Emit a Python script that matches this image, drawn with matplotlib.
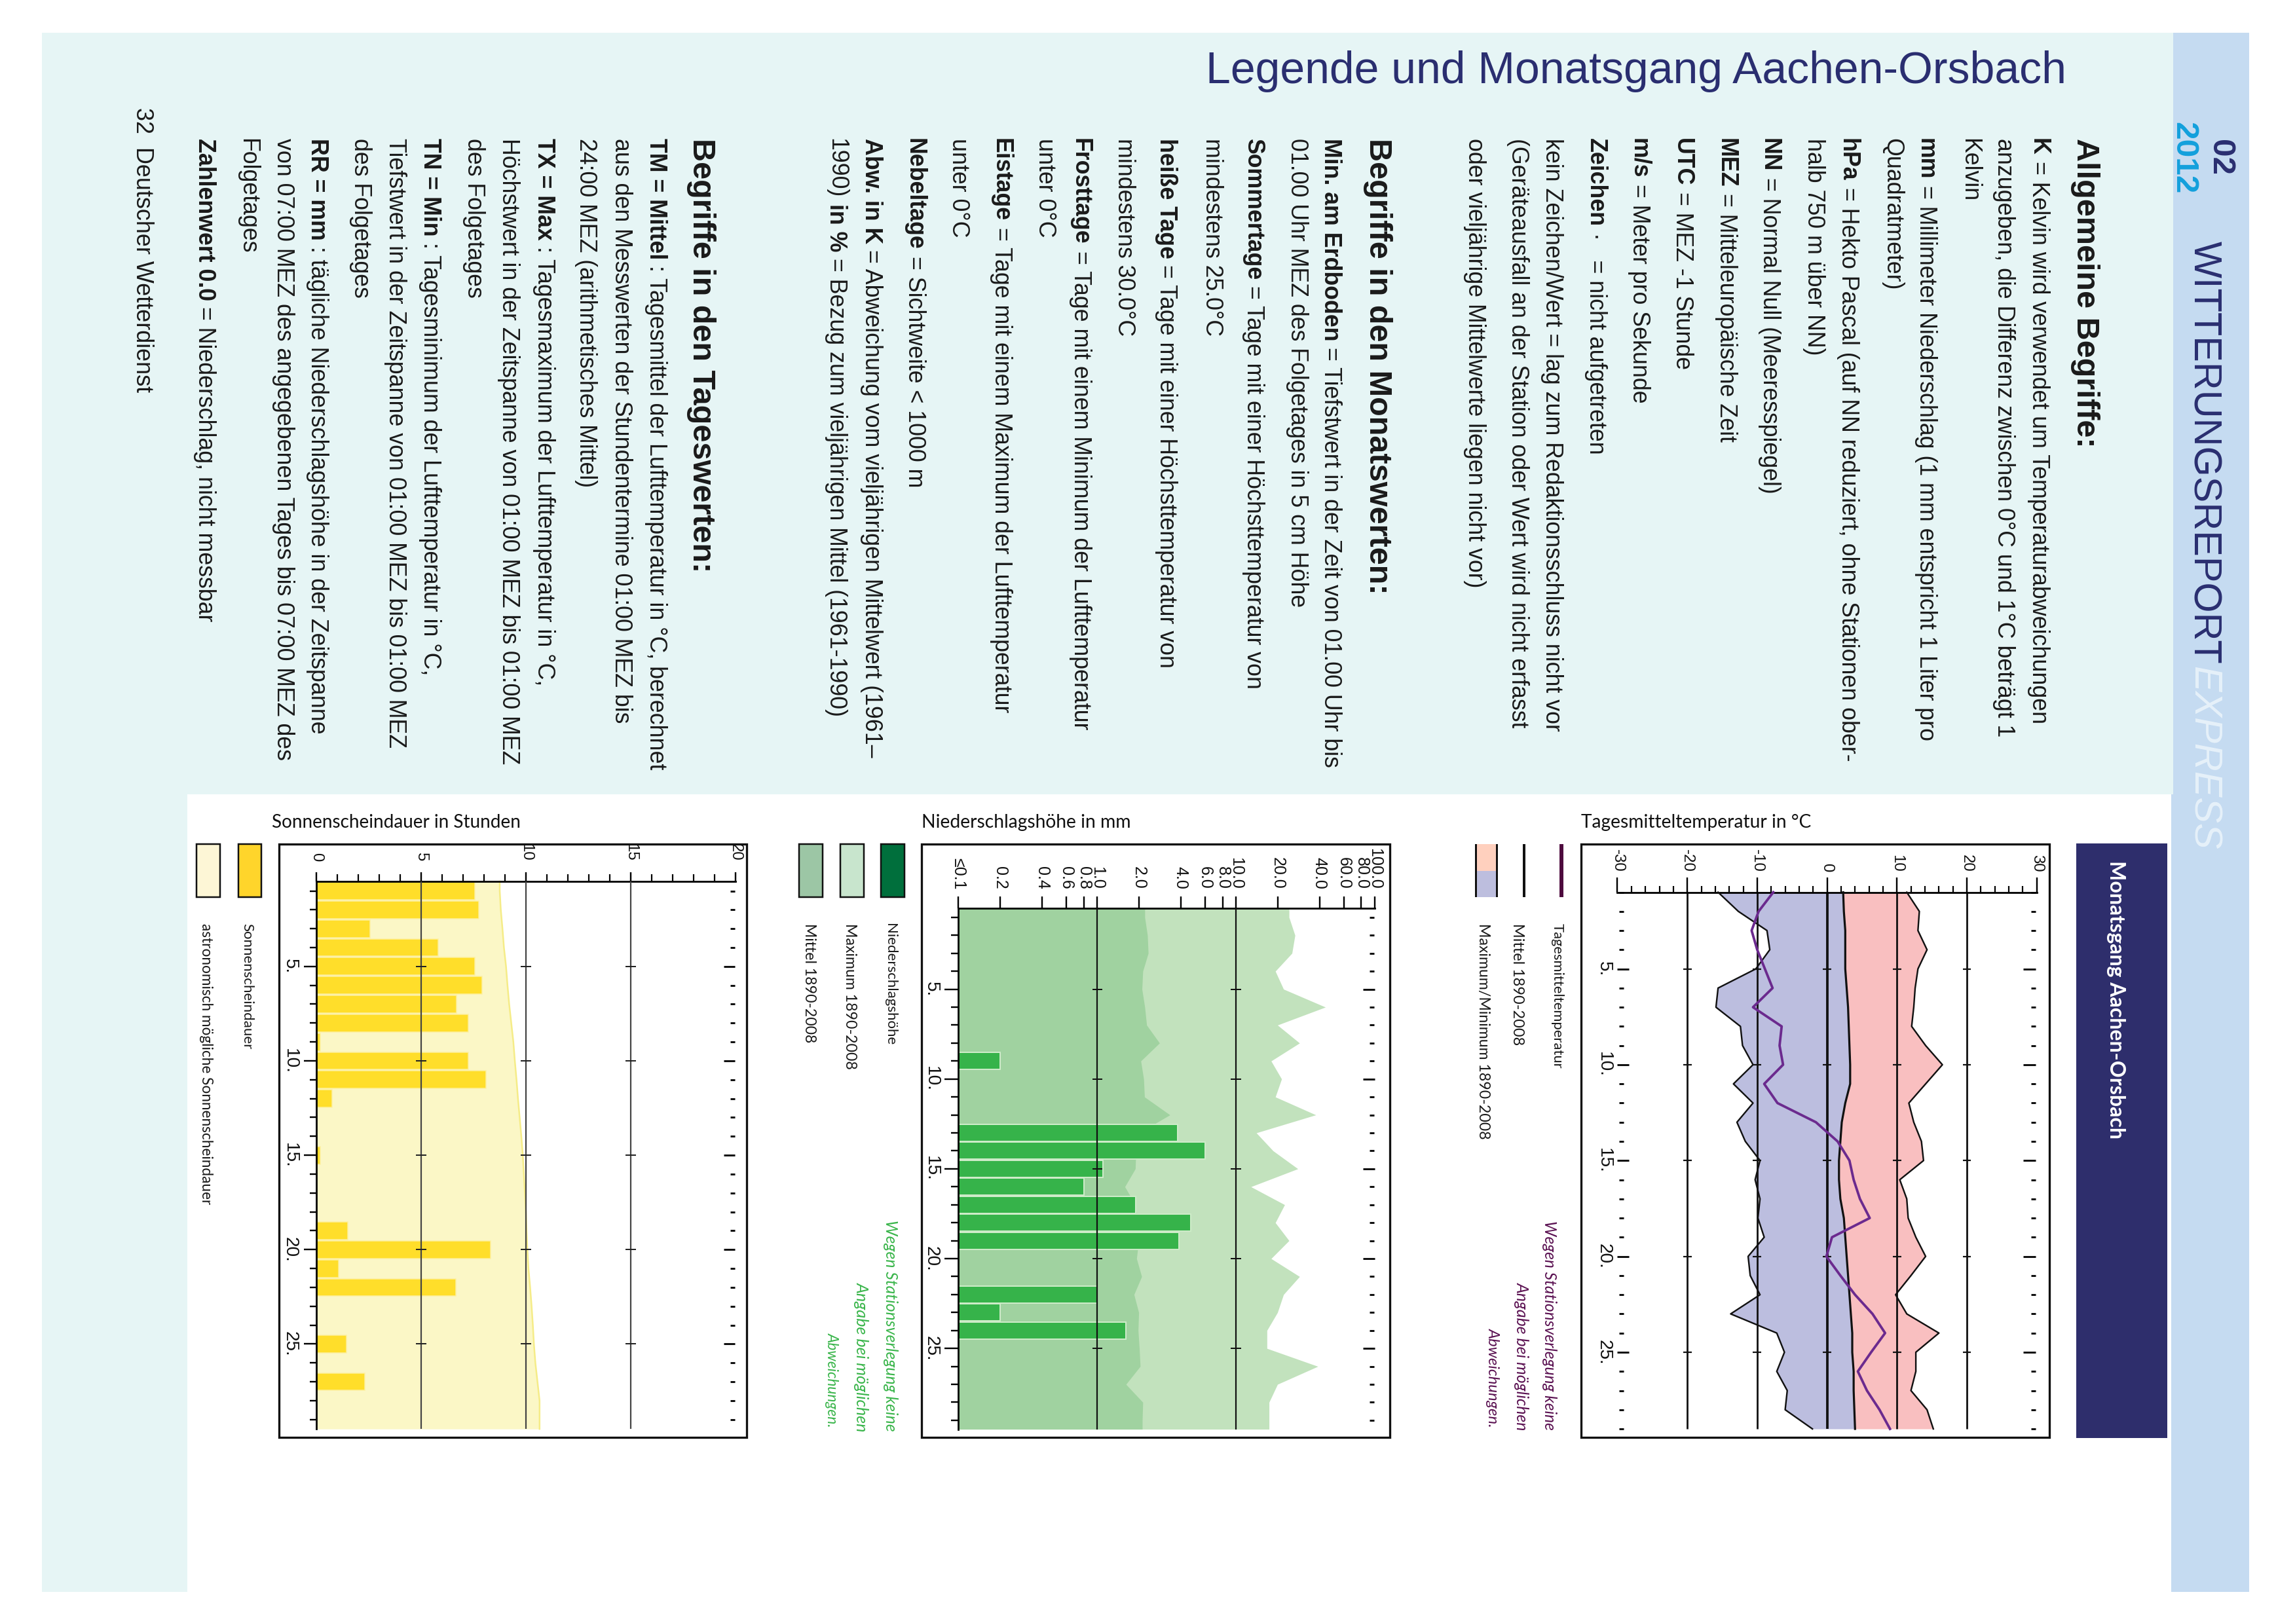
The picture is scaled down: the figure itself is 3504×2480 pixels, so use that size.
import numpy as np
import matplotlib
matplotlib.use("Agg")
import matplotlib.pyplot as plt
from matplotlib.patches import Rectangle
from matplotlib.ticker import NullLocator, NullFormatter

# ---------- data ----------
days = list(range(1, 30))
temp_max = [11.4,13.2,13.0,14.3,13.0,12.6,12.4,12.1,14.1,16.5,14.1,11.7,12.4,13.5,13.8,10.4,11.4,11.6,12.7,14.1,12.0,9.8,11.4,16.0,12.7,12.7,12.0,14.3,15.2]
temp_min = [-15.6,-12.7,-8.6,-8.2,-10.2,-15.6,-15.9,-12.4,-12.1,-10.6,-13.4,-10.6,-12.9,-11.7,-9.6,-10.3,-9.6,-9.9,-9.0,-11.3,-11.0,-9.6,-13.8,-7.2,-6.1,-7.2,-5.7,-6.0,-2.1]
temp_mean = [2.3,2.4,2.6,2.6,2.6,2.8,3.0,3.1,3.2,3.3,3.3,2.6,2.1,1.9,1.7,1.7,1.9,2.4,2.6,2.8,3.0,3.2,3.4,3.6,3.6,3.8,3.8,3.9,4.0]
temp_day = [-7.7,-9.8,-10.8,-10.0,-8.9,-7.8,-10.6,-6.5,-6.8,-6.3,-9.0,-7.1,-1.6,1.5,3.2,3.8,4.7,6.1,0.7,-0.1,1.9,4.0,6.5,8.3,6.3,4.4,5.7,7.5,9.0]

rain_max = [24.1,26.6,25.3,19.2,22.0,44.1,19.9,28.7,17.9,21.3,19.2,37.6,14.0,18.5,27.9,12.8,22.4,19.2,24.1,17.9,28.7,22.0,19.9,16.7,16.7,38.9,19.9,17.3,17.3]
rain_mean = [2.2,2.3,2.33,2.13,2.1,2.2,2.27,2.81,2.06,2.16,2.19,3.34,2.0,1.9,1.88,1.58,1.88,1.95,1.99,1.92,2.09,1.84,1.99,1.97,2.01,2.04,1.61,2.13,2.11]
rain_day = [0,0,0,0,0,0,0,0,0.2,0,0,0,3.8,6.0,1.1,0.8,1.9,4.7,3.9,0,0,1.0,0.2,1.6,0,0,0,0,0]

sun_day = [7.56,7.75,2.55,5.8,7.56,7.9,6.7,7.25,0.2,7.25,8.1,0.75,0,0,0.2,0,0,0,1.5,8.3,1.05,6.65,0,0,1.45,0,2.3,0,0]
sun_astro = [8.75,8.8,8.88,8.95,9.05,9.12,9.2,9.3,9.4,9.47,9.55,9.62,9.7,9.78,9.85,9.9,9.95,10.0,10.03,10.07,10.12,10.2,10.27,10.33,10.38,10.45,10.55,10.65,10.65]

day_major = [5, 10, 15, 20, 25]
day_labels = ["5.", "10.", "15.", "20.", "25."]
temp_ticks = [-30, -20, -10, 0, 10, 20, 30]
temp_tick_labels = ["-30", "-20", "-10", "0", "10", "20", "30"]
rain_ticks = [0.1,0.2,0.4,0.6,0.8,1,2,4,6,8,10,20,40,60,80,100]
rain_tick_labels = ["≤0.1","0.2","0.4","0.6","0.8","1.0","2.0","4.0","6.0","8.0","10.0","20.0","40.0","60.0","80.0","100.0"]
sun_ticks = [0, 5, 10, 15, 20]
sun_tick_labels = ["0", "5", "10", "15", "20"]

B, R = "bold", "normal"
col1_head = "Allgemeine Begriffe:"
col1 = [
 [("K",B),("= Kelvin wird verwendet um Temperaturabweichungen",R)],
 [("anzugeben, die Differenz zwischen 0°C und 1°C beträgt 1",R)],
 [("Kelvin",R)],
 [("mm",B),("= Millimeter Niederschlag (1 mm entspricht 1 Liter pro",R)],
 [("Quadratmeter)",R)],
 [("hPa",B),("= Hekto Pascal (auf NN reduziert, ohne Stationen ober-",R)],
 [("halb 750 m über NN)",R)],
 [("NN",B),("= Normal Null (Meeresspiegel)",R)],
 [("MEZ",B),("= Mitteleuropäische Zeit",R)],
 [("UTC",B),("= MEZ -1 Stunde",R)],
 [("m/s",B),("= Meter pro Sekunde",R)],
 [("Zeichen",B),("·   = nicht aufgetreten",R)],
 [("kein Zeichen/Wert = lag zum Redaktionsschluss nicht vor",R)],
 [("(Geräteausfall an der Station oder Wert wird nicht erfasst",R)],
 [("oder vieljährige Mittelwerte liegen nicht vor)",R)],
]
col2_head = "Begriffe in den Monatswerten:"
col2 = [
 [("Min. am Erdboden",B),("= Tiefstwert in der Zeit von 01.00 Uhr bis",R)],
 [("01.00 Uhr MEZ des Folgetages in 5 cm Höhe",R)],
 [("Sommertage",B),("= Tage mit einer Höchsttemperatur von",R)],
 [("mindestens 25.0°C",R)],
 [("heiße Tage",B),("= Tage mit einer Höchsttemperatur von",R)],
 [("mindestens 30.0°C",R)],
 [("Frosttage",B),("= Tage mit einem Minimum der Lufttemperatur",R)],
 [("unter 0°C",R)],
 [("Eistage",B),("= Tage mit einem Maximum der Lufttemperatur",R)],
 [("unter 0°C",R)],
 [("Nebeltage",B),("= Sichtweite < 1000 m",R)],
 [("Abw. in K",B),("= Abweichung vom vieljährigen Mittelwert (1961–",R)],
 [("1990)",R),("in %",B),("= Bezug zum vieljährigen Mittel (1961-1990)",R)],
]
col3_head = "Begriffe in den Tageswerten:"
col3 = [
 [("TM = Mittel",B),(": Tagesmittel der Lufttemperatur in °C, berechnet",R)],
 [("aus den Messwerten der Stundentermine 01:00 MEZ bis",R)],
 [("24:00 MEZ (arithmetisches Mittel)",R)],
 [("TX = Max",B),(": Tagesmaximum der Lufttemperatur in °C,",R)],
 [("Höchstwert in der Zeitspanne von 01:00 MEZ bis 01:00 MEZ",R)],
 [("des Folgetages",R)],
 [("TN = Min",B),(": Tagesminimum der Lufttemperatur in °C,",R)],
 [("Tiefstwert in der Zeitspanne von 01:00 MEZ bis 01:00 MEZ",R)],
 [("des Folgetages",R)],
 [("RR = mm",B),(": tägliche Niederschlagshöhe in der Zeitspanne",R)],
 [("von 07:00 MEZ des angegebenen Tages bis 07:00 MEZ des",R)],
 [("Folgetages",R)],
 [("Zahlenwert 0.0",B),("= Niederschlag, nicht messbar",R)],
]
note_lines = ["Wegen Stationsverlegung keine", "Angabe bei möglichen", "Abweichungen."]

# ---------- layout (pixels) ----------
W, H = 3504, 2480
SANS = ["Liberation Sans", "DejaVu Sans"]
LATO = ["Lato", "DejaVu Sans"]
col1_x = [3100,3047,2994,2928,2876,2809,2757,2689,2623,2556,2490,2424,2357,2305,2239]
col2_x = [2019,1968,1901,1838,1768,1704,1637,1583,1516,1451,1384,1318,1264]
col3_x = [989,936,882,818,764,711,644,591,538,472,420,365,300]
BODY_PX = 35.7
HEAD_PX = 48.6
BODY_SHIFT = 3
HEAD_SHIFT = 5
NAVY = "#2A2E70"

fig = plt.figure(figsize=(W/100, H/100), dpi=100, facecolor="white")
bg = fig.add_axes([0, 0, 1, 1], zorder=0)
bg.set_xlim(0, W); bg.set_ylim(H, 0); bg.axis("off")
renderer = fig.canvas.get_renderer()

def rect(x0, y0, x1, y1, fc, ec="none", lw=0, z=1):
    bg.add_patch(Rectangle((x0, y0), x1-x0, y1-y0, facecolor=fc, edgecolor=ec, linewidth=lw*0.72, zorder=z))

def rot(x, y, s, px, weight="normal", color="#1a1a1a", style="normal", family=SANS, ha="left", fit=None):
    t = bg.text(x, y, s, rotation=-90, rotation_mode="anchor", ha=ha, va="baseline",
                fontsize=px*0.72, fontweight=weight, fontstyle=style, color=color, family=family, zorder=5)
    if fit:
        L = t.get_window_extent(renderer).height
        t.set_fontsize(px*0.72*fit/L)
    return t

def flat(x, y, s, px, color="#111111", family=LATO, fit=None):
    t = bg.text(x, y, s, fontsize=px*0.72, color=color, family=family, va="baseline", zorder=5)
    if fit:
        L = t.get_window_extent(renderer).width
        t.set_fontsize(px*0.72*fit/L)
    return t

def runs(x, y, parts, px):
    for s, w in parts:
        t = rot(x, y, s, px, weight=w)
        y += t.get_window_extent(renderer).height + px*0.25

# page background
rect(64, 50, 3318, 2431, "#E6F5F5")
rect(286, 1213, 3318, 2431, "white", z=2)
rect(3318, 50, 3434, 1213, "#C5DBF1", z=2)
rect(3315, 1213, 3434, 2431, "#C5DBF1", z=2)
rect(3170, 1288, 3309, 2196, "#2E2E6C", z=3)

flat(1841, 127, "Legende und Monatsgang Aachen-Orsbach", 66.5, color=NAVY, family=SANS, fit=1316)

rot(3166+HEAD_SHIFT, 211, col1_head, HEAD_PX, weight=B)
for x, p in zip(col1_x, col1): runs(x+BODY_SHIFT, 211, p, BODY_PX)
rot(2086+HEAD_SHIFT, 211, col2_head, HEAD_PX, weight=B)
for x, p in zip(col2_x, col2): runs(x+BODY_SHIFT, 211, p, BODY_PX)
rot(1053+HEAD_SHIFT, 211, col3_head, HEAD_PX, weight=B)
for x, p in zip(col3_x, col3): runs(x+BODY_SHIFT, 211, p, BODY_PX)
rot(205+BODY_SHIFT, 164, "32  Deutscher Wetterdienst", BODY_PX, fit=436)

# side strip
rot(3377, 213, "02", 60, weight=B, color=NAVY, fit=55)
rot(3321, 186, "2012", 60, weight=B, color="#12A0DC", fit=110)
rot(3349, 368, "WITTERUNGSREPORT", 58, color=NAVY, fit=645)
rot(3349, 1017, "EXPRESS", 58, color="#E6F1FA", style="italic", fit=280)
rot(3221, 1314, "Monatsgang Aachen-Orsbach", 40, color="white", weight="bold", family=LATO, fit=427)

def chart_axes(fx0, fx1, fy0=1289, fy1=2195):
    ax = fig.add_axes([fx0/W, 1-fy1/H, (fx1-fx0)/W, (fy1-fy0)/H], zorder=3)
    ax.patch.set_visible(False)
    rect(fx0, fy0, fx1, fy1, "none", ec="#111111", lw=3.3, z=4)
    return ax

def common(ax, top_pos, left_pos, xt, xl, major_len, pad, font_px, left_visible, left_major, left_minor, left_pad, day_px=28):
    ax.spines["right"].set_visible(False); ax.spines["bottom"].set_visible(False)
    ax.spines["top"].set_position(("data", top_pos))
    ax.spines["left"].set_position(("data", left_pos))
    ax.spines["left"].set_visible(left_visible)
    for s in ("top", "left"): ax.spines[s].set_linewidth(2.8*0.72)
    ax.xaxis.tick_top()
    ax.set_xticks(xt); ax.set_xticklabels(xl, rotation=-90, fontsize=font_px*0.72, family=SANS, va="bottom", color="#111111")
    ax.set_yticks(day_major); ax.set_yticklabels(day_labels, rotation=-90, fontsize=day_px*0.72, family=SANS, va="center", color="#111111")
    ax.set_yticks([d for d in days if d not in day_major], minor=True)
    ax.tick_params(axis="x", which="major", length=major_len*0.72, width=2.4*0.72, pad=pad*0.72)
    ax.tick_params(axis="y", which="major", length=left_major*0.72, width=2.4*0.72, pad=left_pad*0.72)
    ax.tick_params(axis="y", which="minor", length=left_minor*0.72, width=2.4*0.72)

minor_days = [d for d in days if d not in day_major]

# ---------- chart 1: temperature ----------
ax = chart_axes(2414, 3129)
x0, sx = 2789.6, 10.67      # px of 0 degC, px per degC
y1, sy = 1362.5, 29.27      # px of day 1, px per day
ax.set_xlim((2414-x0)/sx, (3129-x0)/sx)
ax.set_ylim(1+(2195-y1)/sy, 1+(1289-y1)/sy)
ax.fill_betweenx(days, temp_mean, temp_max, color="#F9BFC0", lw=0, zorder=1)
ax.fill_betweenx(days, temp_min, temp_mean, color="#BCBEDF", lw=0, zorder=1)
ax.plot(temp_max, days, color="#111111", lw=2.4*0.72, zorder=3)
ax.plot(temp_min, days, color="#111111", lw=2.4*0.72, zorder=3)
ax.vlines([-20, -10, 10, 20], 1, 29, colors="#111111", lw=2.8*0.72, zorder=2)
ax.vlines([0], 1, 29, colors="#111111", lw=3.8*0.72, zorder=2)
ax.plot(temp_mean, days, color="#111111", lw=3.2*0.72, zorder=3)
ax.plot(temp_day, days, color="#6B2A8E", lw=3.8*0.72, zorder=4)
for v in [-20, -10, 0, 10, 20]:
    ax.hlines(day_major, v-0.6, v+0.6, colors="#111111", lw=2.2*0.72, zorder=3)
ax.hlines(minor_days, 29.2, 29.85, colors="#111111", lw=3*0.72)
ax.hlines(day_major, 28.1, 29.85, colors="#111111", lw=3*0.72)
ax.hlines(minor_days, -29.76, -29.1, colors="#111111", lw=3*0.72)
ax.hlines(day_major, -30, -28.4, colors="#111111", lw=3*0.72)
common(ax, 1, -30, temp_ticks, temp_tick_labels, 23, 8, 24, False, 0, 0, 8)
ax.set_xticks(list(range(-28, 30, 2)), minor=True)
ax.xaxis.set_minor_formatter(NullFormatter())
ax.tick_params(axis="x", which="minor", top=True, length=10*0.72, width=2.2*0.72)
ax.spines["top"].set_bounds(-30, 30)
ax.tick_params(axis="y", which="both", length=0)

rect(2381, 1289, 2387, 1370, "#4E0A3E", z=3)
rect(2325, 1289, 2329, 1370, "#111111", z=3)
rect(2254, 1289, 2285, 1330, "#FFD0BE", z=3)
rect(2254, 1330, 2285, 1370, "#BDBEDE", z=3)
rect(2252, 1289, 2255, 1370, "#111111", z=4); rect(2284, 1289, 2287, 1370, "#111111", z=4)
rot(2372, 1410, "Tagesmitteltemperatur", 30, family=LATO, fit=221)
rot(2310, 1410, "Mittel 1890-2008", 30, family=LATO, fit=186)
rot(2258, 1410, "Maximum/Minimum 1890-2008", 30, family=LATO, fit=331)
for bx, yy0, s, L in zip([2358, 2316, 2273], [2184, 2184, 2180], note_lines, [321, 227, 152]):
    rot(bx, yy0, s, 30, style="italic", color="#5B1252", ha="right", family=LATO, fit=L)
flat(2414, 1264, "Tagesmitteltemperatur in °C", 24, fit=350)

# ---------- chart 2: precipitation ----------
ax = chart_axes(1407, 2122)
lx0, sl = 1463.4, 211.87   # px of 0.1 mm, px per decade
y1, sy = 1400.8, 27.43     # px of day 1, px per day
ax.set_xscale("log")
ax.set_xlim(10**(-1+(1407-lx0)/sl), 10**(-1+(2122-lx0)/sl))
ax.set_ylim(1+(2195-y1)/sy, 1+(1289-y1)/sy)
yy = [0.5] + days + [29.5]
ax.fill_betweenx(yy, 0.1, [rain_max[0]]+rain_max+[rain_max[-1]], color="#C2E2BD", lw=0, zorder=1)
ax.fill_betweenx(yy, 0.1, [rain_mean[0]]+rain_mean+[rain_mean[-1]], color="#A0D2A0", lw=0, zorder=1.5)
rd = [d for d, v in zip(days, rain_day) if v > 0]
rv = [v-0.1 for v in rain_day if v > 0]
ax.barh(rd, rv, left=0.1, height=0.95, color="#36B34A", edgecolor="#CDEBC8", linewidth=2*0.72, zorder=2)
ax.vlines([1, 10], 0.5, 29.5, colors="#111111", lw=2.2*0.72, zorder=3)
for v in [1, 10]:
    ax.hlines(day_major, v/1.087, v*1.087, colors="#111111", lw=2*0.72, zorder=3)
ax.hlines(minor_days, 91.3, 98.5, colors="#111111", lw=3*0.72)
ax.hlines(day_major, 82.5, 100, colors="#111111", lw=3*0.72)
common(ax, 0.5, 0.1, rain_ticks, rain_tick_labels, 18, 11, 25, True, 21, 11, 8)
ax.xaxis.set_minor_locator(NullLocator()); ax.xaxis.set_minor_formatter(NullFormatter())
ax.spines["top"].set_bounds(0.1, 100); ax.spines["left"].set_bounds(0.5, 29.5)

rect(1345, 1289, 1381, 1370, "#006F3C", ec="#111111", lw=2.5, z=3)
rect(1283, 1289, 1319, 1370, "#C8E5CD", ec="#111111", lw=2.5, z=3)
rect(1220, 1289, 1256, 1370, "#9CC6A5", ec="#111111", lw=2.5, z=3)
rot(1353, 1410, "Niederschlagshöhe", 30, family=LATO, fit=186)
rot(1291, 1410, "Maximum 1890-2008", 30, family=LATO, fit=223)
rot(1229, 1410, "Mittel 1890-2008", 30, family=LATO, fit=182)
for bx, yy0, s, L in zip([1352, 1308, 1264], [2186, 2186, 2180], note_lines, [323, 229, 145]):
    rot(bx, yy0, s, 30, style="italic", color="#39B54A", ha="right", family=LATO, fit=L)
flat(1407, 1264, "Niederschlagshöhe in mm", 25, fit=319)

# ---------- chart 3: sunshine ----------
ax = chart_axes(425.5, 1140)
x0, sx = 483, 32.0        # px of 0 h, px per h
y1, sy = 1360.5, 28.83    # px of day 1, px per day
ax.set_xlim((425.5-x0)/sx, (1140-x0)/sx)
ax.set_ylim(1+(2195-y1)/sy, 1+(1289-y1)/sy)
ax.fill_betweenx(yy, 0, [sun_astro[0]]+sun_astro+[sun_astro[-1]], color="#FBF7C6", lw=0, zorder=1)
ax.plot([sun_astro[0]]+sun_astro+[sun_astro[-1]], yy, color="#F5EC88", lw=2.5*0.72, zorder=1.2)
sd = [d for d, v in zip(days, sun_day) if v > 0]
sv = [v for v in sun_day if v > 0]
ax.barh(sd, sv, height=0.93, color="#FFDE2A", edgecolor="#FDF0A0", linewidth=1.5*0.72, zorder=2)
ax.vlines([5, 10, 15], 0.5, 29.5, colors="#444444", lw=2.2*0.72, zorder=3)
for v in [5, 10, 15]:
    ax.hlines(day_major, v-0.24, v+0.24, colors="#222222", lw=2*0.72, zorder=3)
ax.hlines(minor_days, 19.75, 19.96, colors="#111111", lw=3*0.72)
ax.hlines(day_major, 19.44, 19.96, colors="#111111", lw=3*0.72)
common(ax, 0.5, 0, sun_ticks, sun_tick_labels, 14, 17, 24, True, 19, 10, 8)
ax.set_xticks(list(range(1, 20)), minor=True)
ax.xaxis.set_minor_formatter(NullFormatter())
ax.tick_params(axis="x", which="minor", top=True, length=11*0.72, width=2.2*0.72)
ax.spines["top"].set_bounds(0, 20); ax.spines["left"].set_bounds(0.5, 29.5)

rect(364, 1289, 399, 1370, "#FFD52B", ec="#111111", lw=2.5, z=3)
rect(300, 1289, 335.5, 1370, "#FDF6D6", ec="#111111", lw=2.5, z=3)
rot(371, 1410, "Sonnenscheindauer", 30, family=LATO, fit=192)
rot(308, 1410, "astronomisch mögliche Sonnenscheindauer", 30, family=LATO, fit=429)
flat(415, 1264, "Sonnenscheindauer in Stunden", 26, fit=380)

fig.savefig("out.png", dpi=100, facecolor="white")
